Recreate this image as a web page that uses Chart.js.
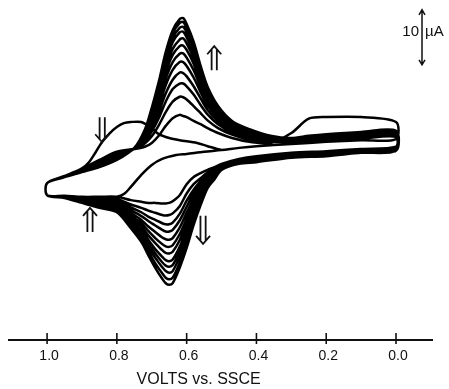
<!DOCTYPE html>
<html>
<head>
<meta charset="utf-8">
<script src="https://cdn.jsdelivr.net/npm/chart.js@4.4.1/dist/chart.umd.min.js"></script>
<style>
  html, body { margin: 0; padding: 0; background: #fff; }
  #wrap { width: 449px; height: 389px; position: relative; }
</style>
</head>
<body>
<div id="wrap"><canvas id="cv"></canvas></div>
<script>
// Repeated cyclic voltammetry scans, current in µA against potential (V vs. SSCE).

// Potential grid of the positive-going sweeps (0.0 V -> 1.0 V)
const upperVolts = [0.00, 0.10, 0.20, 0.25, 0.30, 0.36, 0.42, 0.47, 0.51, 0.54, 0.56, 0.58, 0.60, 0.61, 0.62, 0.64, 0.66, 0.68, 0.70, 0.72, 0.75, 0.80, 0.85, 0.90, 0.95, 1.00];
// Potential grid of the negative-going sweeps (1.0 V -> 0.0 V)
const lowerVolts = [1.00, 0.95, 0.90, 0.85, 0.80, 0.76, 0.73, 0.71, 0.69, 0.67, 0.66, 0.65, 0.64, 0.62, 0.60, 0.58, 0.56, 0.54, 0.52, 0.50, 0.45, 0.40, 0.30, 0.20, 0.10, 0.00];

// Opening sweep from the 0.5 V rest potential up to 1.0 V
const firstVolts   = [0.50, 0.54, 0.57, 0.62, 0.65, 0.68, 0.70, 0.73, 0.76, 0.78, 0.80, 0.82, 0.84, 0.86, 0.88, 0.90, 0.93, 0.95, 1.00];
const firstCurrent = [1.8, 2.5, 3.1, 3.6, 4.0, 4.7, 5.8, 6.9, 6.9, 6.7, 6.0, 4.9, 3.5, 1.5, -0.4, -1.5, -2.4, -2.9, -4.2];
// First return from 1.0 V down to 0.0 V
const returnVolts   = [1.00, 0.95, 0.90, 0.85, 0.80, 0.78, 0.76, 0.73, 0.70, 0.67, 0.63, 0.60, 0.55, 0.50, 0.45, 0.40, 0.30, 0.20, 0.10, 0.00];
const returnCurrent = [-6.4, -6.7, -6.7, -6.9, -6.7, -6.2, -4.9, -2.7, -0.9, 0.2, 0.9, 1.1, 1.5, 1.8, 2.2, 2.5, 2.9, 3.3, 3.6, 3.8];

// Positive-going sweeps, cycles 1..12 (µA)
const upper1  = [6.9, 7.8, 7.8, 7.5, 4.9, 3.1, 3.3, 4.0, 4.9, 5.8, 6.5, 7.1, 7.8, 8.0, 8.2, 7.6, 6.2, 4.4, 3.1, 2.4, 2.0, 1.5, 0.0, -1.6, -3.1, -4.2];
const upper2  = [4.2, 3.9, 3.6, 3.3, 3.3, 3.3, 3.7, 4.6, 5.8, 7.2, 8.5, 9.8, 11.0, 11.4, 11.5, 10.6, 8.7, 6.3, 4.3, 3.0, 2.0, 1.2, -0.2, -1.7, -3.1, -4.2];
const upper3  = [4.4, 4.1, 3.8, 3.5, 3.4, 3.5, 4.1, 5.0, 6.5, 8.3, 10.0, 11.9, 13.4, 13.9, 13.9, 12.9, 10.6, 7.6, 5.2, 3.4, 2.1, 1.0, -0.4, -1.8, -3.1, -4.2];
const upper4  = [4.6, 4.3, 3.9, 3.7, 3.5, 3.7, 4.3, 5.4, 7.1, 9.1, 11.2, 13.4, 15.2, 15.8, 15.9, 14.6, 12.1, 8.7, 5.9, 3.8, 2.1, 0.8, -0.6, -1.9, -3.1, -4.2];
const upper5  = [4.7, 4.4, 4.1, 3.8, 3.6, 3.8, 4.6, 5.7, 7.6, 9.9, 12.3, 15.0, 17.1, 17.8, 17.8, 16.4, 13.6, 9.8, 6.6, 4.1, 2.1, 0.7, -0.7, -1.9, -3.1, -4.2];
const upper6  = [4.8, 4.6, 4.2, 3.9, 3.7, 3.9, 4.8, 6.0, 8.0, 10.6, 13.3, 16.3, 18.6, 19.4, 19.3, 17.8, 14.8, 10.7, 7.2, 4.4, 2.1, 0.5, -0.8, -2.0, -3.1, -4.2];
const upper7  = [4.9, 4.7, 4.3, 4.0, 3.7, 4.0, 5.0, 6.2, 8.4, 11.2, 14.1, 17.5, 20.0, 20.8, 20.7, 19.1, 15.9, 11.5, 7.7, 4.6, 2.1, 0.4, -0.9, -2.0, -3.1, -4.2];
const upper8  = [5.0, 4.8, 4.4, 4.1, 3.8, 4.1, 5.1, 6.4, 8.8, 11.7, 14.9, 18.5, 21.2, 22.1, 21.9, 20.2, 16.8, 12.1, 8.2, 4.8, 2.2, 0.3, -1.0, -2.1, -3.1, -4.2];
const upper9  = [5.1, 4.9, 4.5, 4.2, 3.9, 4.2, 5.3, 6.7, 9.1, 12.3, 15.6, 19.5, 22.3, 23.3, 23.2, 21.4, 17.7, 12.8, 8.6, 5.1, 2.2, 0.2, -1.1, -2.1, -3.1, -4.2];
const upper10 = [5.2, 5.0, 4.6, 4.3, 3.9, 4.3, 5.4, 6.8, 9.4, 12.6, 16.1, 20.2, 23.2, 24.2, 24.0, 22.2, 18.4, 13.3, 8.9, 5.2, 2.2, 0.1, -1.2, -2.1, -3.1, -4.2];
const upper11 = [5.2, 5.0, 4.6, 4.3, 4.0, 4.3, 5.5, 7.0, 9.6, 13.0, 16.7, 20.9, 24.0, 25.1, 24.9, 23.0, 19.1, 13.8, 9.2, 5.4, 2.2, 0.1, -1.2, -2.2, -3.1, -4.2];
const upper12 = [5.3, 5.1, 4.7, 4.4, 4.0, 4.4, 5.6, 7.1, 9.8, 13.3, 17.1, 21.5, 24.7, 25.8, 25.6, 23.6, 19.6, 14.2, 9.5, 5.5, 2.2, 0.0, -1.3, -2.2, -3.1, -4.2];

// Negative-going sweeps, cycles 1..12 (µA)
const lower1  = [-6.4, -6.5, -6.7, -6.7, -6.7, -7.3, -7.6, -7.8, -7.8, -7.9, -7.9, -7.8, -7.5, -6.4, -4.4, -3.1, -2.4, -1.8, -1.3, -0.7, 0.2, 0.7, 1.3, 1.6, 2.0, 2.4];
const lower2  = [-6.4, -6.6, -6.9, -7.0, -7.1, -8.1, -8.7, -9.2, -9.6, -10.0, -10.1, -10.0, -9.7, -8.4, -6.1, -4.4, -3.3, -2.3, -1.6, -0.9, 0.1, 0.5, 1.2, 1.5, 1.9, 2.3];
const lower3  = [-6.4, -6.6, -7.0, -7.2, -7.4, -8.6, -9.5, -10.3, -10.9, -11.5, -11.7, -11.7, -11.4, -9.8, -7.4, -5.4, -3.9, -2.7, -1.9, -1.0, 0.0, 0.4, 1.1, 1.4, 1.8, 2.2];
const lower4  = [-6.4, -6.6, -7.1, -7.4, -7.7, -9.1, -10.2, -11.1, -11.9, -12.7, -13.0, -13.0, -12.7, -11.0, -8.5, -6.1, -4.4, -3.0, -2.1, -1.1, -0.1, 0.3, 1.0, 1.3, 1.8, 2.1];
const lower5  = [-6.4, -6.7, -7.2, -7.6, -8.0, -9.6, -10.9, -12.1, -13.1, -14.1, -14.4, -14.5, -14.2, -12.3, -9.6, -7.0, -5.0, -3.3, -2.3, -1.2, -0.2, 0.2, 0.9, 1.2, 1.7, 2.0];
const lower6  = [-6.4, -6.7, -7.3, -7.8, -8.2, -10.1, -11.5, -12.9, -14.2, -15.3, -15.7, -15.8, -15.5, -13.5, -10.7, -7.8, -5.5, -3.6, -2.5, -1.3, -0.3, 0.1, 0.8, 1.1, 1.6, 2.0];
const lower7  = [-6.4, -6.7, -7.4, -7.9, -8.4, -10.5, -12.1, -13.7, -15.1, -16.4, -16.9, -17.0, -16.7, -14.6, -11.6, -8.5, -6.0, -3.8, -2.7, -1.4, -0.4, 0.0, 0.7, 1.0, 1.6, 1.9];
const lower8  = [-6.4, -6.8, -7.5, -8.1, -8.7, -10.9, -12.8, -14.5, -16.2, -17.6, -18.2, -18.4, -18.1, -15.8, -12.6, -9.3, -6.5, -4.1, -2.9, -1.5, -0.4, -0.1, 0.7, 1.0, 1.5, 1.8];
const lower9  = [-6.4, -6.8, -7.6, -8.3, -8.9, -11.3, -13.3, -15.2, -17.0, -18.6, -19.2, -19.4, -19.1, -16.7, -13.4, -9.9, -6.9, -4.4, -3.0, -1.6, -0.5, -0.2, 0.6, 0.9, 1.5, 1.8];
const lower10 = [-6.4, -6.8, -7.6, -8.4, -9.1, -11.6, -13.8, -15.9, -17.8, -19.5, -20.2, -20.5, -20.2, -17.6, -14.3, -10.5, -7.3, -4.6, -3.2, -1.6, -0.6, -0.2, 0.5, 0.8, 1.4, 1.7];
const lower11 = [-6.4, -6.9, -7.7, -8.6, -9.3, -12.0, -14.4, -16.6, -18.8, -20.6, -21.4, -21.7, -21.4, -18.7, -15.2, -11.2, -7.8, -4.9, -3.3, -1.7, -0.6, -0.3, 0.5, 0.8, 1.3, 1.7];
const lower12 = [-6.4, -6.9, -7.8, -8.7, -9.5, -12.4, -14.9, -17.3, -19.6, -21.6, -22.4, -22.7, -22.4, -19.6, -16.0, -11.8, -8.2, -5.1, -3.5, -1.8, -0.7, -0.4, 0.4, 0.7, 1.3, 1.6];

// Axis ticks and labels
const tickVolts  = [1.0, 0.8, 0.6, 0.4, 0.2, 0.0];
const tickLabels = ['1.0', '0.8', '0.6', '0.4', '0.2', '0.0'];
const axisTitle  = 'VOLTS vs. SSCE';
// Current scale bar (µA)
const scaleBarSpan  = 10;
const scaleBarLabel = ['10', 'µA'];

const upperSweeps = [upper1, upper2, upper3, upper4, upper5, upper6, upper7, upper8, upper9, upper10, upper11, upper12];
const lowerSweeps = [lower1, lower2, lower3, lower4, lower5, lower6, lower7, lower8, lower9, lower10, lower11, lower12];

// Assemble the continuous trace in recording order
const pair = (vs, is) => vs.map((v, i) => ({ x: v, y: is[i] }));
let trace = pair(firstVolts, firstCurrent).concat(pair(returnVolts, returnCurrent));
upperSweeps.forEach((u, k) => {
  trace = trace.concat(pair(upperVolts, u), pair(lowerVolts, lowerSweeps[k]));
});

// Drawing placement of the direction arrows (potential, current, height px, pointing up?)
const arrowMarks = [
  { v: 0.521, i: 18.5, h: 24, up: true },
  { v: 0.842, i: 5.5,  h: 25, up: false },
  { v: 0.877, i: -10.9, h: 24, up: true },
  { v: 0.553, i: -12.7, h: 28, up: false }
];

function doubleArrow(ctx, cx, cy, h, up) {
  const dir = up ? -1 : 1;
  const tipY = cy + dir * h / 2;
  const tailY = cy - dir * h / 2;
  const headH = 8, halfW = 7, gap = 2.6;
  ctx.beginPath();
  ctx.moveTo(cx - gap, tailY); ctx.lineTo(cx - gap, tipY - dir * 3);
  ctx.moveTo(cx + gap, tailY); ctx.lineTo(cx + gap, tipY - dir * 3);
  ctx.moveTo(cx - halfW, tipY - dir * headH);
  ctx.lineTo(cx, tipY);
  ctx.lineTo(cx + halfW, tipY - dir * headH);
  ctx.stroke();
}

const decorPlugin = {
  id: 'cvDecor',
  afterDraw(chart) {
    const { ctx, chartArea, scales } = chart;
    const xs = scales.x, ys = scales.y;
    const y0 = chartArea.bottom;
    ctx.save();
    ctx.strokeStyle = '#111';
    ctx.fillStyle = '#111';

    // potential axis
    ctx.lineWidth = 2;
    ctx.beginPath();
    ctx.moveTo(chartArea.left, y0);
    ctx.lineTo(chartArea.right, y0);
    ctx.stroke();
    ctx.lineWidth = 1.6;
    ctx.font = '14px "Liberation Sans", Arial, sans-serif';
    ctx.textAlign = 'center';
    ctx.textBaseline = 'middle';
    tickVolts.forEach((v, k) => {
      const px = xs.getPixelForValue(v);
      ctx.beginPath();
      ctx.moveTo(px, y0 - 7);
      ctx.lineTo(px, y0 + 4);
      ctx.stroke();
      ctx.fillText(tickLabels[k], px + 2, y0 + 16);
    });
    ctx.font = '16px "Liberation Sans", Arial, sans-serif';
    ctx.fillText(axisTitle, xs.getPixelForValue(0.6) + 12, y0 + 40);

    // 10 µA scale bar
    const bx = xs.getPixelForValue(-0.0745);
    const top = ys.getPixelForValue(27.3);
    const bot = ys.getPixelForValue(27.3 - scaleBarSpan);
    ctx.lineWidth = 1.5;
    ctx.beginPath();
    ctx.moveTo(bx, top); ctx.lineTo(bx, bot);
    ctx.moveTo(bx - 3, top + 5); ctx.lineTo(bx, top); ctx.lineTo(bx + 3, top + 5);
    ctx.moveTo(bx - 3, bot - 5); ctx.lineTo(bx, bot); ctx.lineTo(bx + 3, bot - 5);
    ctx.stroke();
    ctx.font = '15px "Liberation Sans", Arial, sans-serif';
    ctx.textAlign = 'right';
    ctx.fillText(scaleBarLabel[0], bx - 3, (top + bot) / 2 - 5);
    ctx.textAlign = 'left';
    ctx.fillText(scaleBarLabel[1], bx + 3, (top + bot) / 2 - 5);

    // scan direction arrows
    ctx.lineWidth = 1.8;
    arrowMarks.forEach(a => {
      doubleArrow(ctx, xs.getPixelForValue(a.v), ys.getPixelForValue(a.i), a.h, a.up);
    });
    ctx.restore();
  }
};

new Chart(document.getElementById('cv'), {
  type: 'line',
  data: {
    datasets: [{
      data: trace,
      borderColor: '#000',
      borderWidth: 2.5,
      pointRadius: 0,
      fill: false,
      tension: 0.3
    }]
  },
  options: {
    responsive: true,
    maintainAspectRatio: false,
    animation: false,
    layout: { padding: { left: 8, right: 16, top: 4, bottom: 49 } },
    plugins: { legend: { display: false }, tooltip: { enabled: false } },
    scales: {
      x: { type: 'linear', reverse: true, min: -0.106, max: 1.112, display: false },
      y: { type: 'linear', min: -32.73, max: 28.36, display: false }
    }
  },
  plugins: [decorPlugin]
});
</script>
</body>
</html>
